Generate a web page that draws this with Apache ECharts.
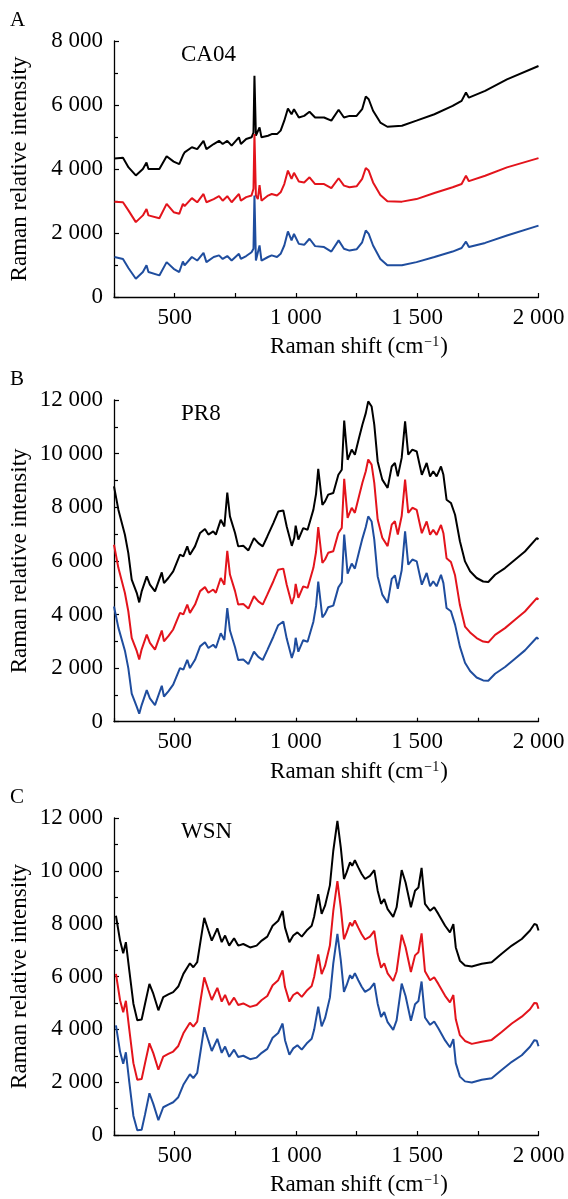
<!DOCTYPE html>
<html>
<head>
<meta charset="utf-8">
<script src="https://cdn.jsdelivr.net/npm/echarts@6/dist/echarts.min.js"></script>
<style>
  html, body { margin: 0; padding: 0; background: #fff; }
  #chart { width: 568px; height: 1199px; }
</style>
</head>
<body>
<div id="chart"></div>
<script>
// panel A - CA04
var xA = [252,287,310,340,369,384,392,437,467,496,519,534,541,571,593,619,631,661,683,698,717,735,765,773,795,817,825,829,835,843,850,858,885,900,922,937,952,967,982,992,1012,1034,1056,1079,1116,1146,1176,1198,1221,1250,1273,1288,1300,1318,1348,1377,1437,1497,1571,1646,1683,1701,1713,1780,1870,2000];
var caBlack = [4330,4350,4050,3800,4000,4200,4000,4000,4400,4230,4150,4420,4520,4680,4620,4880,4620,4780,4880,4780,4880,4730,4990,4780,4940,4990,5140,6910,5040,4990,5300,4990,5040,5090,5090,5200,5510,5890,5710,5870,5610,5660,5790,5610,5610,5510,5850,5610,5660,5660,5870,6265,6180,5820,5450,5320,5350,5510,5710,5970,6130,6390,6230,6440,6800,7220];
var caRed = [2980,2960,2700,2340,2550,2750,2550,2460,2910,2650,2600,2910,2840,3090,2960,3220,2960,3060,3150,3010,3150,2960,3220,3010,3120,3170,3380,5090,3170,3060,3500,3010,3170,3220,3170,3270,3530,3950,3690,3880,3610,3580,3740,3530,3530,3400,3710,3480,3430,3460,3690,4030,3950,3580,3190,2990,2980,3060,3250,3430,3530,3790,3620,3790,4050,4340];
var caBlue = [1250,1190,900,570,780,990,780,675,1090,880,780,1110,990,1250,1140,1380,1090,1250,1300,1190,1280,1140,1350,1190,1280,1400,1510,3170,1140,1090,1610,1140,1250,1300,1250,1350,1610,2050,1770,1970,1660,1630,1820,1590,1560,1420,1770,1510,1450,1490,1710,2080,1970,1610,1190,990,990,1090,1250,1420,1530,1730,1560,1690,1920,2230];

// panel B - PR8
var xB = [250,268,295,309,323,344,354,364,385,398,419,447,456,474,494,522,536,552,563,584,605,625,639,659,670,690,705,717,728,749,762,783,804,827,845,863,882,907,927,948,962,983,993,999,1010,1030,1048,1072,1083,1092,1109,1120,1133,1154,1175,1189,1199,1213,1230,1243,1260,1274,1288,1298,1312,1323,1337,1356,1378,1395,1408,1420,1436,1450,1463,1480,1498,1519,1539,1553,1566,1580,1598,1608,1621,1639,1656,1676,1697,1718,1745,1772,1793,1821,1862,1903,1944,1993,2000];
var pr8Black = [8780,7910,6975,6290,5300,4800,4450,4860,5420,5110,4860,5570,5170,5360,5610,6230,6170,6540,6230,6540,7040,7190,6980,7100,6980,7530,7280,8550,7660,7040,6540,6560,6390,6850,6660,6540,6910,7410,7840,7880,7280,6560,6850,7310,6790,7220,7160,7910,8500,9430,8090,8220,8470,8530,9210,9400,11230,9770,10150,9960,10580,11080,11510,11950,11760,11080,9710,9030,8720,9520,9650,9150,9840,11200,9960,10150,10080,9210,9650,9150,9340,9150,9520,9210,8280,8160,7720,6730,5980,5610,5360,5230,5210,5480,5730,6040,6350,6850,6800];
var pr8Red = [6600,5740,4800,4120,3130,2630,2320,2700,3250,2940,2690,3400,3000,3190,3440,4060,4000,4370,4060,4370,4870,5020,4810,4930,4810,5360,5110,6370,5490,4870,4370,4390,4220,4680,4490,4370,4740,5240,5670,5710,5110,4390,4680,5140,4620,5050,4990,5740,6330,7260,5920,6050,6300,6360,7040,7230,9060,7600,7980,7790,8410,8910,9340,9780,9590,8910,7540,6860,6550,7350,7480,6980,7670,9030,7790,7980,7900,7030,7470,6970,7160,6970,7340,7030,6100,5960,5460,4350,3550,3330,3120,2990,2960,3240,3490,3800,4110,4610,4560];
var pr8Blue = [4300,3510,2650,2000,1050,550,300,620,1180,870,620,1340,940,1130,1380,2000,1940,2310,2000,2310,2810,2960,2750,2870,2750,3300,3050,4240,3400,2780,2300,2320,2150,2610,2420,2300,2670,3170,3600,3740,3100,2380,2670,3130,2610,3040,2980,3730,4320,5230,3890,4020,4270,4330,5010,5200,6980,5520,5900,5710,6330,6830,7260,7660,7470,6790,5420,4740,4430,5330,5460,4960,5650,7100,5860,6050,5980,5110,5550,5050,5240,5050,5480,5170,4240,4120,3620,2800,2200,1890,1650,1540,1530,1790,2040,2350,2660,3140,3080];

// panel C - WSN
var xC = [258,275,288,299,313,330,346,364,378,396,412,433,453,474,494,515,536,563,577,593,607,622,639,653,676,694,708,725,745,762,783,811,838,859,882,904,927,945,955,973,989,1006,1024,1044,1065,1075,1092,1106,1120,1140,1154,1171,1185,1198,1209,1223,1232,1243,1257,1271,1285,1305,1323,1337,1351,1364,1378,1401,1415,1436,1452,1474,1491,1505,1518,1532,1553,1570,1587,1615,1635,1649,1659,1676,1697,1725,1766,1807,1848,1890,1931,1965,1983,1993,2000];
var wsnBlack = [8300,7360,6880,7300,6230,4970,4340,4370,4970,5720,5350,4720,5220,5320,5410,5620,6100,6500,6350,6540,7360,8220,7740,7360,7820,7300,7550,7170,7450,7170,7230,7100,7170,7360,7510,7920,8110,8480,7850,7300,7550,7670,7510,7740,7920,8260,9120,8370,8680,9450,10760,11890,10880,9690,9940,10320,10190,10400,10130,9880,9690,9810,10030,9250,8750,8930,8550,8260,8620,10030,9560,8620,9250,9370,10110,8750,8490,8620,8370,7920,7670,7980,7100,6600,6420,6380,6480,6540,6860,7170,7420,7740,7990,7950,7740];
var wsnRed = [6100,5100,4650,5080,4000,2720,2090,2120,2720,3470,3100,2470,2970,3070,3160,3370,3850,4250,4100,4290,5110,5970,5490,5110,5570,5050,5300,4920,5200,4920,4980,4850,4920,5110,5260,5670,5860,6230,5600,5050,5300,5400,5230,5460,5640,5980,6840,6090,6400,7170,8480,9610,8600,7410,7660,8040,7910,8120,7850,7600,7400,7510,7730,6850,6330,6500,6120,5830,6190,7580,7110,6170,6800,6920,7630,6200,5860,5970,5720,5270,5020,5300,4380,3780,3560,3450,3530,3600,3900,4220,4480,4760,5000,4990,4780];
var wsnBlue = [4150,3150,2700,3130,2000,720,180,200,780,1580,1180,560,1050,1150,1240,1430,1900,2300,2150,2350,3180,4080,3580,3180,3640,3110,3350,2960,3230,2950,3000,2870,2930,3110,3260,3680,3860,4220,3590,3040,3280,3400,3230,3460,3640,3980,4860,4110,4420,5200,6500,7610,6610,5420,5670,6050,5920,6130,5860,5610,5420,5530,5750,4970,4470,4650,4270,3980,4340,5730,5260,4320,4950,5070,5810,4450,4170,4300,4040,3580,3320,3630,2720,2210,2030,1990,2090,2150,2460,2770,3020,3340,3590,3570,3360];

var panelNames = ['CA04', 'PR8', 'WSN'];
var panelLetters = ['A', 'B', 'C'];
var yMaxes = [8000, 12000, 12000];
var lineColors = ['#000000', '#e3141c', '#1f4d9e'];

var FONT = 'Liberation Serif';

function pairs(xs, ys) {
    return xs.map(function (x, i) { return [x, ys[i]]; });
}

function thousands(v) {
    if (v < 1000) return String(v);
    var s = String(v);
    return s.slice(0, s.length - 3) + ' ' + s.slice(s.length - 3);
}

var grids = [
    { left: 114, top: 41, width: 424.5, height: 256 },
    { left: 114, top: 400, width: 424.5, height: 321.7 },
    { left: 114, top: 818, width: 424.5, height: 317 }
];

var panels = [
    { x: xA, ys: [caBlack, caRed, caBlue] },
    { x: xB, ys: [pr8Black, pr8Red, pr8Blue] },
    { x: xC, ys: [wsnBlack, wsnRed, wsnBlue] }
];

var xAxes = [], yAxes = [], series = [], graphics = [];

grids.forEach(function (g, i) {
    xAxes.push({
        type: 'value', gridIndex: i, min: 250, max: 2000, interval: 250,
        axisLine: { lineStyle: { color: '#000', width: 1.3 } },
        axisTick: { inside: true, length: 4, lineStyle: { color: '#000', width: 1.2 } },
        splitLine: { show: false },
        axisLabel: {
            margin: 9, fontFamily: FONT, fontSize: 23, color: '#000',
            formatter: function (v) { return (v % 500 === 0) ? thousands(v) : ''; }
        }
    });
    yAxes.push({
        type: 'value', gridIndex: i, min: 0, max: yMaxes[i], interval: 2000,
        axisLine: { show: true, lineStyle: { color: '#000', width: 1.3 } },
        axisTick: { show: true, inside: true, length: 5, lineStyle: { color: '#000', width: 1.2 } },
        minorTick: { show: true, splitNumber: 2, length: 4, lineStyle: { color: '#000', width: 1.2 } },
        splitLine: { show: false },
        axisLabel: { margin: 11, fontFamily: FONT, fontSize: 23, color: '#000', formatter: thousands }
    });
    // black first, then red, blue on top
    panels[i].ys.forEach(function (ys, k) {
        series.push({
            type: 'line', xAxisIndex: i, yAxisIndex: i,
            data: pairs(panels[i].x, ys),
            showSymbol: false, silent: true,
            lineStyle: { color: lineColors[k], width: 2 }
        });
    });

    var top = g.top, bottom = g.top + g.height;
    graphics.push({
        type: 'text', left: 10, top: top - 31,
        style: { text: panelLetters[i], font: '21px ' + FONT, fill: '#000' }
    });
    graphics.push({
        type: 'text', x: 181, y: top + 2,
        style: { text: panelNames[i], font: '23px ' + FONT, fill: '#000', textVerticalAlign: 'top' }
    });
    graphics.push({
        type: 'text', x: 20, y: top + g.height / 2, rotation: Math.PI / 2,
        style: {
            text: 'Raman relative intensity', font: '23px ' + FONT, fill: '#000',
            textAlign: 'center', textVerticalAlign: 'middle'
        }
    });
    graphics.push({
        type: 'text', x: 359, y: bottom + 50,
        style: {
            text: 'Raman shift (cm{sup|\u22121})', font: '23px ' + FONT, fill: '#000',
            textAlign: 'center', textVerticalAlign: 'middle',
            rich: { sup: { fontSize: 14, fontFamily: FONT, verticalAlign: 'top', padding: [0, 1, 0, 1] } }
        }
    });
});

var myChart = echarts.init(document.getElementById('chart'));
myChart.setOption({
    backgroundColor: '#fff',
    animation: false,
    grid: grids,
    xAxis: xAxes,
    yAxis: yAxes,
    series: series,
    graphic: graphics
});
</script>
</body>
</html>
